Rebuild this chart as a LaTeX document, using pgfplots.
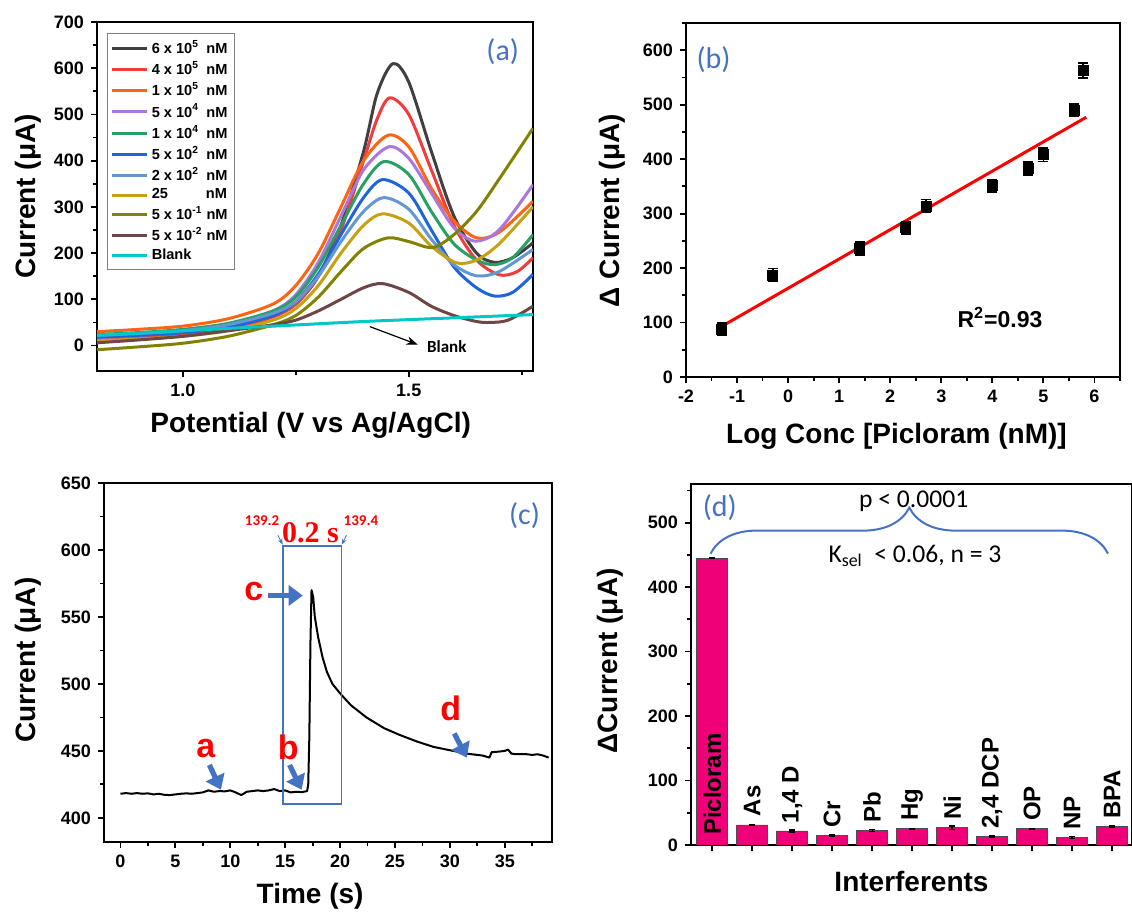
\documentclass[border=0pt]{standalone}
\usepackage{pgfplots}
\pgfplotsset{compat=1.18}
\usepackage{pgfplotstable}
\usepackage{fontspec}
\setmainfont{Liberation Sans}
\newfontfamily\calibri{Carlito}
\newfontfamily\timesf{Liberation Serif}
\usetikzlibrary{arrows.meta,decorations.pathreplacing}

\definecolor{panelblue}{RGB}{68,114,196}
\definecolor{cblack}{RGB}{64,64,64}
\definecolor{cred}{RGB}{240,60,60}
\definecolor{corange}{RGB}{255,100,20}
\definecolor{cpurple}{RGB}{170,120,220}
\definecolor{cgreen}{RGB}{40,160,100}
\definecolor{cblue}{RGB}{30,100,220}
\definecolor{clblue}{RGB}{100,150,210}
\definecolor{cgold}{RGB}{200,160,20}
\definecolor{colive}{RGB}{130,130,0}
\definecolor{cbrown}{RGB}{110,70,70}
\definecolor{ccyan}{RGB}{0,200,200}
\definecolor{barpink}{RGB}{240,0,120}

% calibration points, panel (b)
\pgfplotstableread{
x y err
-1.30 88 11
-0.30 187 12
1.40 236 12
2.30 274 11
2.70 314 12
4.00 351 11
4.70 383 12
5.00 408 12
5.60 490 11
5.78 563 14
}\calib

% interferents, panel (d)
\pgfplotstableread{
x y err
0 445 1.0
1 31 1.0
2 21.7 1.5
3 14.5 1.0
4 22 1.5
5 25 1.0
6 27 2.5
7 13.4 1.0
8 25 1.0
9 11.4 1.5
10 28.5 1.0
}\interf

\pgfplotsset{
  panel/.style={
    scale only axis, anchor=south west,
    axis line style={line width=1.3pt},
    every tick/.style={line width=0.9pt, black},
    tick align=outside, tick pos=left,
    major tick length=3pt, minor tick length=1.8pt,
    tick label style={font=\bfseries\fontsize{9}{10}\selectfont},
    label style={font=\bfseries\fontsize{14}{16}\selectfont},
    /pgf/number format/assume math mode=true,
  },
}
\tikzset{
  lbl/.style={font=\calibri\fontsize{15}{16}\selectfont, text=panelblue},
  curve/.style={line width=1.5pt, smooth, line join=round},
  blk/.style={panelblue, line width=2.6pt, -{Triangle[length=7pt, width=10pt]}},
  let/.style={text=red, font=\bfseries\fontsize{17}{18}\selectfont},
  bl/.style={rotate=90, anchor=west, inner sep=0pt, font=\bfseries\fontsize{12}{13}\selectfont},
}

\begin{document}
\begin{tikzpicture}
\useasboundingbox (0,0) rectangle (566pt,456.5pt);

% ---------------- (a)
\begin{axis}[panel, at={(48.5pt,271pt)}, width=218pt, height=174.5pt,
  xmin=0.81, xmax=1.775, ymin=-55, ymax=700,
  xtick={1.0,1.5}, minor xtick={1.25,1.75},
  ytick={0,100,...,700}, minor ytick={50,150,...,650},
  xticklabel style={/pgf/number format/.cd, fixed, fixed zerofill, precision=1},
  xlabel={Potential (V vs Ag/AgCl)}, ylabel={Current (μA)},
  xlabel style={at={(axis description cs:0.49,-0.155)}, anchor=center},
  ylabel style={at={(axis description cs:-0.158,0.5)}, anchor=center},
  legend cell align=left,
  legend style={at={(0.023,0.968)}, anchor=north west, draw=gray, line width=0.6pt,
    font=\bfseries\fontsize{7.3}{8}\selectfont, row sep=-1.5pt, inner sep=1.5pt},
]
\addplot[curve, cblack] coordinates {(0.81,20) (0.9,25) (1.0,30) (1.1,42) (1.2,65) (1.25,90) (1.3,150) (1.35,260) (1.4,420) (1.43,545) (1.465,610) (1.5,570) (1.55,420) (1.6,280) (1.65,200) (1.69,180) (1.73,190) (1.775,222)};
\addlegendentry{6 x 10\textsuperscript{5}\enspace nM}
\addplot[curve, cred] coordinates {(0.81,14) (0.9,18) (1.0,24) (1.1,36) (1.2,62) (1.25,90) (1.3,150) (1.35,250) (1.4,400) (1.43,490) (1.458,536) (1.5,500) (1.55,380) (1.6,260) (1.65,185) (1.7,153) (1.74,160) (1.775,190)};
\addlegendentry{4 x 10\textsuperscript{5}\enspace nM}
\addplot[curve, corange] coordinates {(0.81,30) (0.9,35) (1.0,42) (1.1,58) (1.2,90) (1.25,130) (1.3,200) (1.35,300) (1.4,400) (1.454,455) (1.5,430) (1.55,340) (1.6,270) (1.65,233) (1.7,245) (1.775,312)};
\addlegendentry{1 x 10\textsuperscript{5}\enspace nM}
\addplot[curve, cpurple] coordinates {(0.81,17) (0.9,22) (1.0,30) (1.1,45) (1.2,75) (1.25,110) (1.3,180) (1.35,280) (1.4,380) (1.456,430) (1.5,405) (1.55,330) (1.6,255) (1.647,226) (1.7,250) (1.775,348)};
\addlegendentry{5 x 10\textsuperscript{4}\enspace nM}
\addplot[curve, cgreen] coordinates {(0.81,24) (0.9,28) (1.0,35) (1.1,48) (1.2,75) (1.25,105) (1.3,170) (1.35,260) (1.4,350) (1.445,398) (1.5,370) (1.55,290) (1.6,220) (1.65,185) (1.69,175) (1.73,190) (1.775,240)};
\addlegendentry{1 x 10\textsuperscript{4}\enspace nM}
\addplot[curve, cblue] coordinates {(0.81,18) (0.9,22) (1.0,28) (1.1,40) (1.2,65) (1.25,95) (1.3,155) (1.35,240) (1.4,320) (1.442,359) (1.5,330) (1.55,250) (1.6,170) (1.65,125) (1.69,107) (1.73,115) (1.775,154)};
\addlegendentry{5 x 10\textsuperscript{2}\enspace nM}
\addplot[curve, clblue] coordinates {(0.81,22) (0.9,26) (1.0,32) (1.1,45) (1.2,70) (1.25,95) (1.3,150) (1.35,225) (1.4,290) (1.445,320) (1.5,295) (1.55,230) (1.6,175) (1.65,151) (1.7,160) (1.775,208)};
\addlegendentry{2 x 10\textsuperscript{2}\enspace nM}
\addplot[curve, cgold] coordinates {(0.81,10) (0.9,14) (1.0,20) (1.1,32) (1.2,55) (1.25,80) (1.3,130) (1.35,200) (1.4,260) (1.442,285) (1.5,265) (1.55,215) (1.605,179) (1.65,185) (1.7,220) (1.775,300)};
\addlegendentry{25\hspace{2.6em}nM}
\addplot[curve, colive] coordinates {(0.81,-9) (0.9,-3) (1.0,5) (1.1,20) (1.2,45) (1.25,65) (1.3,105) (1.35,160) (1.4,210) (1.454,233) (1.5,225) (1.553,212) (1.6,240) (1.65,290) (1.7,360) (1.775,470)};
\addlegendentry{5 x 10\textsuperscript{-1} nM}
\addplot[curve, cbrown] coordinates {(0.81,6) (0.9,12) (1.0,20) (1.1,32) (1.2,45) (1.25,55) (1.3,75) (1.35,100) (1.4,125) (1.442,134) (1.5,115) (1.55,85) (1.6,65) (1.65,52) (1.68,50) (1.72,55) (1.775,85)};
\addlegendentry{5 x 10\textsuperscript{-2} nM}
\addplot[curve, ccyan] coordinates {(0.81,22) (1.0,32) (1.2,42) (1.4,52) (1.6,60) (1.775,67)};
\addlegendentry{Blank}
\draw[-{Stealth}, line width=0.6pt] (axis cs:1.414,41) -- (axis cs:1.52,2);
\node[anchor=west, font=\calibri\bfseries\fontsize{8.5}{9}\selectfont] at (axis cs:1.525,-3) {Blank};
\node[lbl] at (axis cs:1.708,636) {(a)};
\end{axis}

% ---------------- (b)
\begin{axis}[panel, at={(343pt,268pt)}, width=217pt, height=177pt,
  xmin=-2, xmax=6.5, ymin=0, ymax=650,
  xtick={-2,...,6}, minor xtick={-1.5,-0.5,...,6.5},
  ytick={0,100,...,600}, minor ytick={50,150,...,650},
  xlabel={Log Conc [Picloram (nM)]}, ylabel={Δ Current (μA)},
  xlabel style={at={(axis description cs:0.485,-0.169)}, anchor=center},
  ylabel style={at={(axis description cs:-0.17,0.47)}, anchor=center},
]
\addplot[red, line width=1.5pt] coordinates {(-1.3,93) (5.84,477)};
\addplot[only marks, mark=square*, mark size=2.5pt, black,
  error bars/.cd, y dir=both, y explicit,
  error bar style={line width=0.8pt},
  error mark options={rotate=90, mark size=2.5pt, line width=0.8pt}]
  table[x=x, y=y, y error=err] {\calib};
\node[font=\bfseries\fontsize{11.5}{12}\selectfont] at (axis cs:4.15,109) {R\textsuperscript{2}=0.93};
\node[lbl] at (axis cs:-1.46,582) {(b)};
\end{axis}

% ---------------- (c)
\begin{axis}[panel, at={(52pt,35.5pt)}, width=224pt, height=179.5pt,
  xmin=-1.5, xmax=39.3, ymin=382, ymax=650,
  xtick={0,5,...,35}, minor xtick={2.5,7.5,...,37.5},
  ytick={400,450,...,650}, minor ytick={425,475,...,625},
  xlabel={Time (s)}, ylabel={Current (μA)},
  xlabel style={at={(axis description cs:0.46,-0.152)}, anchor=center},
  ylabel style={at={(axis description cs:-0.17,0.507)}, anchor=center},
]
\addplot[black, line width=1pt, line join=round] coordinates {
(0,418) (0.5,418.5) (1,418) (1.5,418.5) (2,418) (2.5,418.3) (3,417.5) (3.5,418) (4,417.2) (4.5,417) (5,417.5) (5.5,418) (6,418.3) (6.5,418) (7,418.5) (7.5,419) (8,420.5) (8.5,419.5) (9,420) (9.5,419.8) (10,420.5) (10.5,419) (11,417) (11.5,419.5) (12,420) (12.5,420.5) (13,420) (13.5,420.5) (14,421.5) (14.5,420) (15,420.5) (15.5,419) (16,419.5) (16.5,419.2) (17,420) (17.1,425) (17.2,460) (17.3,530) (17.4,570) (17.55,565) (17.7,550) (18,535) (18.4,520) (18.8,509) (19.3,500) (20.1,492) (21,484) (22.4,475) (24,467) (25.4,462) (27,457) (28.5,453) (30,450.5) (31.5,448) (33,446.5) (33.6,445) (33.8,449) (34.5,449.5) (35,450) (35.3,451) (35.6,448) (36,447.5) (37,447.5) (37.5,447) (38,447.5) (38.5,446.5) (39,445)};
\draw[panelblue, line width=0.6pt] (axis cs:14.81,410.4) rectangle (axis cs:20.13,603);
\draw[panelblue, line width=0.4pt, -{Stealth[length=3pt]}] (axis cs:14.33,611) -- (axis cs:14.78,604);
\draw[panelblue, line width=0.4pt, -{Stealth[length=3pt]}] (axis cs:20.58,611) -- (axis cs:20.16,604);
\node[text=red, font=\timesf\bfseries\fontsize{15}{16}\selectfont] at (axis cs:17.3,612.5) {0.2 s};
\node[text=red, font=\calibri\bfseries\fontsize{7.5}{8}\selectfont] at (axis cs:12.9,622) {139.2};
\node[text=red, font=\calibri\bfseries\fontsize{7.5}{8}\selectfont] at (axis cs:21.9,622) {139.4};
\draw[blk] (axis cs:8.1,439.5) -- (axis cs:9.15,421);
\draw[blk] (axis cs:15.4,439.5) -- (axis cs:16.5,421);
\draw[blk] (axis cs:13.45,566) -- (axis cs:16.6,566);
\draw[blk] (axis cs:30.4,463) -- (axis cs:31.55,445);
\node[let] at (axis cs:7.77,452) {a};
\node[let] at (axis cs:15.27,453) {b};
\node[let] at (axis cs:12.14,569) {c};
\node[let] at (axis cs:30.08,482) {d};
\node[lbl] at (axis cs:36.8,626) {(c)};
\end{axis}

% ---------------- (d)
\begin{axis}[panel, at={(345.5pt,34pt)}, width=220.5pt, height=180.5pt,
  xmin=-0.53, xmax=10.5, ymin=0, ymax=560,
  xtick={0,...,10}, xticklabels={},
  ytick={0,100,...,500}, minor ytick={50,150,...,550},
  xlabel={Interferents}, ylabel={ΔCurrent (μA)},
  xlabel style={at={(axis description cs:0.50,-0.10)}, anchor=center},
  ylabel style={at={(axis description cs:-0.184,0.51)}, anchor=center},
  ybar, bar width=0.78,
]
\addplot[fill=barpink, draw=black!70, line width=0.4pt,
  error bars/.cd, y dir=both, y explicit,
  error bar style={line width=0.6pt, black},
  error mark options={rotate=90, mark size=1.5pt, line width=0.6pt, black}]
  table[x=x, y=y, y error=err] {\interf};
\node[bl] at (axis cs:0,15) {Picloram};
\node[bl] at (axis cs:1,44) {As};
\node[bl] at (axis cs:2,33) {1,4 D};
\node[bl] at (axis cs:3,26) {Cr};
\node[bl] at (axis cs:4,34) {Pb};
\node[bl] at (axis cs:5,37) {Hg};
\node[bl] at (axis cs:6,39) {Ni};
\node[bl] at (axis cs:7,25) {2,4 DCP};
\node[bl] at (axis cs:8,37) {OP};
\node[bl] at (axis cs:9,23) {NP};
\node[bl] at (axis cs:10,40) {BPA};
\draw[panelblue, line width=1pt, decorate, decoration={brace, amplitude=23pt}] (axis cs:-0.04,452) -- (axis cs:9.9,452);
\node[font=\calibri\fontsize{12.8}{14}\selectfont] at (axis cs:5.04,533.7) {p < 0.0001};
\node[font=\calibri\fontsize{12.8}{14}\selectfont] at (axis cs:5.07,448) {K\textsubscript{sel}\ \ < 0.06, n = 3};
\node[lbl] at (axis cs:0.19,524) {(d)};
\end{axis}
\end{tikzpicture}
\end{document}
